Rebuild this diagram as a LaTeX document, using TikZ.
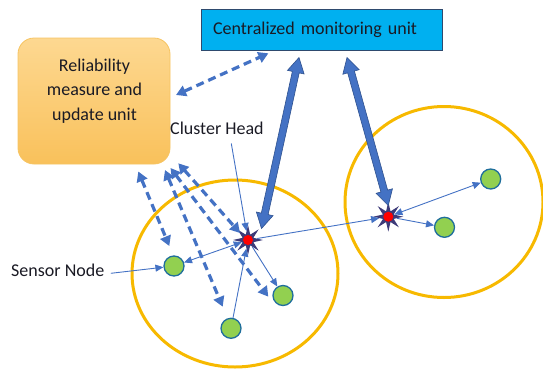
\documentclass[tikz,border=0pt]{standalone}
\usepackage{fontspec}
\setmainfont{Carlito}
\usetikzlibrary{arrows.meta,shapes.geometric,calc}

\definecolor{cmufill}{HTML}{00B0F0}
\definecolor{cmuline}{HTML}{2E4A6E}
\definecolor{rmutop}{HTML}{FDD891}
\definecolor{rmubot}{HTML}{F9C15B}
\definecolor{rmuline}{HTML}{F6C462}
\definecolor{ringcol}{HTML}{F7B900}
\definecolor{linkblue}{HTML}{4472C4}
\definecolor{linkdark}{HTML}{2F528F}
\definecolor{sensorfill}{HTML}{92D050}
\definecolor{sensorline}{HTML}{1F6E9C}
\definecolor{burst}{HTML}{3D3A78}
\definecolor{textcol}{HTML}{1A1A24}

\tikzset{
  txt/.style={font=\fontsize{18}{24.5}\selectfont, text=textcol, inner sep=0pt},
  cmubox/.style={draw=cmuline, line width=0.8pt, fill=cmufill, minimum width=241pt,
    minimum height=41pt, text width=217pt, inner xsep=12pt, inner ysep=0pt, align=left,
    font=\fontsize{18}{22}\selectfont, text=textcol},
  rmubox/.style={draw=rmuline, line width=0.8pt, top color=rmutop, bottom color=rmubot,
    rounded corners=16pt, minimum width=152pt, minimum height=126pt},
  cluster/.style={ellipse, draw=ringcol, line width=3pt, inner sep=0pt},
  sensor/.style={circle, fill=sensorfill, draw=sensorline, line width=1.3pt,
    minimum size=20pt, inner sep=0pt},
  chstar/.style={star, star points=8, star point ratio=2.6, minimum size=30pt,
    inner sep=0pt, fill=burst},
  chcore/.style={circle, fill=red, minimum size=10pt, inner sep=0pt},
  dashlink/.style={draw=linkblue, line width=3.2pt, dash pattern=on 8pt off 5pt,
    {Triangle[length=10pt,width=11pt]}-{Triangle[length=10pt,width=11pt]}},
  thinlink/.style={draw=linkblue, line width=0.9pt, -{Triangle[length=8pt,width=7pt]}},
  thinboth/.style={draw=linkblue, line width=0.9pt,
    {Triangle[length=8pt,width=7pt]}-{Triangle[length=8pt,width=7pt]}},
  fatlink/.style={fill=linkblue, draw=linkdark, line width=0.6pt, line join=miter}
}

% double-headed block arrow between two named points
\newcommand\blockarrow[2]{%
  \path[fatlink] (#1)
    -- ($(#1)!15pt!(#2)!8.5pt!90:(#2)$)
    -- ($(#1)!15pt!(#2)!3.5pt!90:(#2)$)
    -- ($(#2)!15pt!(#1)!3.5pt!-90:(#1)$)
    -- ($(#2)!15pt!(#1)!8.5pt!-90:(#1)$)
    -- (#2)
    -- ($(#2)!15pt!(#1)!8.5pt!90:(#1)$)
    -- ($(#2)!15pt!(#1)!3.5pt!90:(#1)$)
    -- ($(#1)!15pt!(#2)!3.5pt!-90:(#2)$)
    -- ($(#1)!15pt!(#2)!8.5pt!-90:(#2)$)
    -- cycle;}

\begin{document}
\begin{tikzpicture}[x=1pt,y=-1pt]
\useasboundingbox (0,0) rectangle (543,370);
\clip (0,0) rectangle (543,370);

% clusters
\node[cluster, minimum width=206pt, minimum height=187pt] (clusterA) at (235,273.5) {};
\node[cluster, minimum width=198pt, minimum height=191pt] (clusterB) at (444,202) {};

% units
\node[cmubox] (cmu) at (321.5,30) {Centralized monitoring unit};
\node[rmubox] (rmu) at (94,101) {};
\node[txt, align=center, anchor=north] (rmutext) at (94.5,58.5)
  {Reliability\\measure and\\update unit};

% labels
\node[txt, anchor=base west] (chlabel) at (170,134) {Cluster Head};
\node[txt, anchor=base west] (snlabel) at (11,276.7) {Sensor Node};

% cluster heads
\node[chstar] (ch1) at (248,240) {};
\node[chcore] (ch1core) at (ch1) {};
\node[chstar] (ch2) at (388.3,216.7) {};
\node[chcore] (ch2core) at (ch2) {};

% sensor nodes
\node[sensor] (s1) at (174,266) {};
\node[sensor] (s2) at (283,295.5) {};
\node[sensor] (s3) at (231,328.3) {};
\node[sensor] (s4) at (444.5,227.3) {};
\node[sensor] (s5) at (490.7,179) {};

% free ends of the links
\coordinate (e1a) at (176,95);
\coordinate (e1b) at (268.4,53.3);
\coordinate (e2a) at (138.3,171.5);
\coordinate (e2b) at (169.3,246);
\coordinate (e3a) at (165,170);
\coordinate (e3b) at (222.7,306.7);
\coordinate (e4a) at (170.5,168);
\coordinate (e4b) at (268.3,296.7);
\coordinate (e5a) at (178.3,163.3);
\coordinate (e5b) at (240,233);
\coordinate (f1a) at (261.5,228.5);
\coordinate (f1b) at (299,57.5);
\coordinate (f2a) at (388.3,205.5);
\coordinate (f2b) at (347,57.5);
\coordinate (chptr) at (231.3,143.5);
\coordinate (snptr) at (110.8,273.3);

% links with the reliability unit
\draw[dashlink] (e1a) -- (e1b);
\draw[dashlink] (e2a) -- (e2b);
\draw[dashlink] (e3a) -- (e3b);
\draw[dashlink] (e4a) -- (e4b);
\draw[dashlink] (e5a) -- (e5b);

% links inside and between clusters
\draw[thinboth] (ch1) -- (s1);
\draw[thinlink] (ch1) -- (s2);
\draw[thinlink] (s3) -- (ch1);
\draw[thinlink] (ch1) -- (ch2);
\draw[thinboth] (ch2) -- (s5);
\draw[thinlink] (ch2) -- (s4);

% label pointers
\draw[thinlink] (chptr) -- (ch1);
\draw[thinlink] (snptr) -- (s1);

% cluster heads to the monitoring unit
\blockarrow{f1a}{f1b}
\blockarrow{f2a}{f2b}
\end{tikzpicture}
\end{document}
